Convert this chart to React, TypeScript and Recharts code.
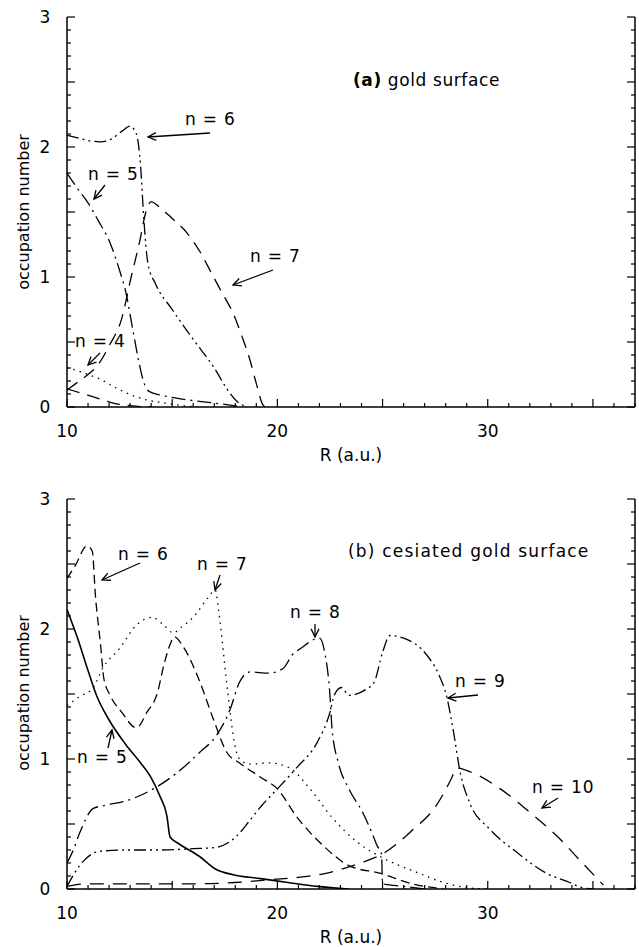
import React from 'react';
import { LineChart, Line, XAxis, YAxis } from 'recharts';

type P = [number, number];

// ---- axis ticks / labels ----
const xTicks = [10, 11, 12, 13, 14, 15, 16, 17, 18, 19, 20, 21, 22, 23, 24, 25, 26, 27, 28, 29, 30, 31, 32, 33, 34, 35, 36, 37];
const xLabels = [10, 20, 30];
const yTicks = [0, 0.1, 0.2, 0.3, 0.4, 0.5, 0.6, 0.7, 0.8, 0.9, 1, 1.1, 1.2, 1.3, 1.4, 1.5, 1.6, 1.7, 1.8, 1.9, 2, 2.1, 2.2, 2.3, 2.4, 2.5, 2.6, 2.7, 2.8, 2.9, 3];
const yLabels = [0, 1, 2, 3];
const xDomain: [number, number] = [10, 37];
const yDomain: [number, number] = [0, 3];

// ---- (a) gold surface ----
const topN4: P[] = [[10, 0.3], [10.5, 0.28], [11, 0.25], [11.5, 0.22], [12.3, 0.15], [13.1, 0.09], [13.9, 0.05], [14.7, 0.03], [15.5, 0.01], [16.5, 0]];
const topN5: P[] = [[10, 1.8], [10.5, 1.68], [11, 1.57], [11.5, 1.43], [12, 1.28], [12.5, 1.05], [12.8, 0.88], [13.1, 0.62], [13.4, 0.36], [13.65, 0.19], [13.9, 0.12], [14.5, 0.09], [15.5, 0.06], [16.5, 0.04], [17.5, 0.02], [18.3, 0]];
const topN6: P[] = [[10, 2.09], [10.5, 2.07], [11, 2.05], [11.6, 2.04], [12.1, 2.06], [12.6, 2.12], [13, 2.16], [13.3, 2.1], [13.5, 1.85], [13.65, 1.45], [13.85, 1.1], [14.2, 0.95], [15, 0.75], [16, 0.52], [17, 0.3], [17.6, 0.14], [18.1, 0.04], [18.6, 0]];
const topN7: P[] = [[10, 0.13], [10.5, 0.19], [11, 0.25], [11.5, 0.33], [12, 0.47], [12.6, 0.68], [13.05, 1.0], [13.45, 1.27], [13.75, 1.5], [14, 1.58], [14.3, 1.55], [15, 1.45], [15.7, 1.34], [16.3, 1.2], [16.9, 1.02], [17.4, 0.87], [17.9, 0.72], [18.3, 0.55], [18.7, 0.36], [19, 0.18], [19.3, 0.02], [19.4, 0]];
const topN8: P[] = [[10, 0.14], [10.6, 0.11], [11.4, 0.07], [12.2, 0.03], [13, 0.01], [14, 0]];

// ---- (b) cesiated gold surface ----
const botN5: P[] = [[10, 2.15], [10.5, 1.93], [11, 1.68], [11.4, 1.49], [12, 1.3], [12.8, 1.11], [13.5, 0.97], [13.95, 0.87], [14.4, 0.72], [14.75, 0.56], [14.9, 0.4], [15.3, 0.35], [16.3, 0.25], [17.1, 0.15], [17.9, 0.11], [19.2, 0.08], [20.5, 0.05], [21.9, 0.02], [23.4, 0]];
const botN6: P[] = [[10, 2.39], [10.4, 2.49], [10.95, 2.64], [11.2, 2.6], [11.35, 2.26], [11.6, 1.87], [11.75, 1.62], [12.05, 1.49], [12.6, 1.36], [13.3, 1.24], [13.8, 1.36], [14.3, 1.51], [14.6, 1.72], [14.9, 1.88], [15.1, 1.94], [15.5, 1.87], [16.3, 1.6], [16.95, 1.31], [17.6, 1.05], [18.2, 0.97], [19.2, 0.86], [20, 0.77], [20.9, 0.56], [22.2, 0.33], [23.4, 0.18], [24.9, 0.12], [26.4, 0.04], [27.9, 0]];
const botN7: P[] = [[10, 1.41], [10.6, 1.48], [11.25, 1.55], [11.7, 1.7], [12.5, 1.85], [13.3, 2.03], [14.05, 2.09], [14.6, 2.03], [15.05, 1.97], [15.4, 2.01], [16, 2.09], [16.7, 2.24], [17.05, 2.3], [17.2, 2.15], [17.35, 1.95], [17.5, 1.72], [17.65, 1.5], [17.8, 1.3], [17.95, 1.13], [18.2, 1.0], [18.7, 0.96], [19.6, 0.97], [20.6, 0.93], [21.5, 0.78], [22.6, 0.55], [23.8, 0.36], [25, 0.24], [26.6, 0.13], [27.9, 0.05], [29, 0.01], [30, 0]];
const botN8: P[] = [[10, 0.2], [10.3, 0.3], [10.6, 0.43], [11.25, 0.62], [11.7, 0.64], [12.85, 0.68], [14.1, 0.77], [15.2, 0.89], [16.3, 1.05], [17.1, 1.18], [17.75, 1.38], [18.2, 1.59], [18.7, 1.67], [19.6, 1.66], [20.3, 1.7], [20.7, 1.8], [21.1, 1.85], [22, 1.93], [22.25, 1.82], [22.5, 1.49], [22.6, 1.23], [22.9, 0.97], [23.4, 0.77], [24.05, 0.59], [24.5, 0.43], [24.75, 0.33], [24.95, 0.27], [25.0, 0.04], [26, 0.02], [27, 0]];
const botN9: P[] = [[10, 0.02], [10.6, 0.18], [11.55, 0.29], [12.85, 0.3], [14.4, 0.3], [16, 0.31], [17.1, 0.32], [17.7, 0.36], [18.2, 0.43], [18.7, 0.53], [19.3, 0.65], [20, 0.77], [20.9, 0.93], [21.9, 1.13], [22.5, 1.36], [22.7, 1.49], [23.05, 1.55], [23.4, 1.49], [24.25, 1.54], [24.6, 1.59], [25.0, 1.82], [25.35, 1.95], [26, 1.93], [27.1, 1.8], [27.7, 1.64], [28.05, 1.48], [28.35, 1.23], [28.7, 0.89], [29.15, 0.66], [30.1, 0.46], [31.4, 0.28], [32.8, 0.12], [33.9, 0.05], [34.5, 0.01], [35, 0]];
const botN10: P[] = [[10, 0.02], [11, 0.04], [12, 0.04], [14, 0.04], [16, 0.04], [18, 0.05], [19.5, 0.07], [21, 0.09], [22.3, 0.12], [23, 0.15], [23.6, 0.18], [24.3, 0.22], [25, 0.27], [25.7, 0.35], [26.4, 0.45], [27.5, 0.63], [28.3, 0.86], [28.5, 0.93], [29.2, 0.9], [30.6, 0.77], [32, 0.59], [33.4, 0.39], [34.5, 0.2], [35.5, 0.03]];

// ---- annotations (pixel positions on page) ----
const topNotes = [
  { t: 'n = 6', x: 185, y: 125 },
  { t: 'n = 5', x: 88, y: 180 },
  { t: 'n = 7', x: 250, y: 262 },
  { t: 'n = 4', x: 75, y: 347 },
];
const topArrows = [
  [210, 133, 148, 137],
  [105, 185, 94, 199],
  [273, 270, 233, 285],
  [100, 353, 88, 365],
];
const botNotes = [
  { t: 'n = 6', x: 118, y: 560 },
  { t: 'n = 7', x: 197, y: 570 },
  { t: 'n = 5', x: 77, y: 763 },
  { t: 'n = 8', x: 290, y: 618 },
  { t: 'n = 9', x: 455, y: 687 },
  { t: 'n = 10', x: 532, y: 793 },
];
const botArrows = [
  [140, 563, 102, 580],
  [220, 575, 215, 590],
  [108, 748, 112, 730],
  [315, 624, 315, 637],
  [478, 695, 448, 698],
  [558, 798, 542, 808],
];

const FONT = '"DejaVu Sans", sans-serif';
const toData = (pts: P[]) => pts.map(([r, v]) => ({ r, v }));
const isMajorX = (v: number) => Math.abs(v / 5 - Math.round(v / 5)) < 1e-6;
const isMajorY = (v: number) => Math.abs(v * 2 - Math.round(v * 2)) < 1e-6;
const hasLabel = (arr: number[], v: number) => arr.some((a) => Math.abs(a - v) < 1e-6);

const BottomTick = (p: any) => {
  const v = p.payload.value;
  return (
    <g>
      <line x1={p.x} x2={p.x} y1={p.y} y2={p.y - (isMajorX(v) ? 8 : 4)} stroke="#000" strokeWidth={1.2} />
      {hasLabel(xLabels, v) && (
        <text x={p.x} y={p.y + 30} textAnchor="middle" fontSize={17} fontFamily={FONT} fill="#000">{v}</text>
      )}
    </g>
  );
};
const TopTick = (p: any) => {
  const v = p.payload.value;
  return <line x1={p.x} x2={p.x} y1={p.y} y2={p.y + (isMajorX(v) ? 8 : 4)} stroke="#000" strokeWidth={1.2} />;
};
const LeftTick = (p: any) => {
  const v = p.payload.value;
  return (
    <g>
      <line x1={p.x} x2={p.x + (isMajorY(v) ? 8 : 4)} y1={p.y} y2={p.y} stroke="#000" strokeWidth={1.2} />
      {hasLabel(yLabels, v) && (
        <text x={p.x - 22} y={p.y + 6} textAnchor="middle" fontSize={17} fontFamily={FONT} fill="#000">{v}</text>
      )}
    </g>
  );
};
const RightTick = (p: any) => {
  const v = p.payload.value;
  return <line x1={p.x} x2={p.x - (isMajorY(v) ? 8 : 4)} y1={p.y} y2={p.y} stroke="#000" strokeWidth={1.2} />;
};

type S = { pts: P[]; dash?: string; w?: number };

const Panel = ({ height, top, series }: { height: number; top: number; series: S[] }) => {
  const axisLine = { stroke: '#000', strokeWidth: 1.5 };
  return (
    <LineChart width={639} height={height} margin={{ top, right: 0, bottom: 0, left: 0 }}>
      <XAxis xAxisId="b" type="number" dataKey="r" domain={xDomain} allowDataOverflow ticks={xTicks} interval={0}
        tickSize={0} tickMargin={0} tickLine={false} axisLine={axisLine} tick={(p: any) => <BottomTick {...p} />}
        height={height - top - 390} orientation="bottom" />
      <XAxis xAxisId="t" type="number" dataKey="r" domain={xDomain} allowDataOverflow ticks={xTicks} interval={0}
        tickSize={0} tickMargin={0} tickLine={false} axisLine={axisLine} tick={(p: any) => <TopTick {...p} />}
        height={0} orientation="top" />
      <YAxis yAxisId="l" type="number" domain={yDomain} allowDataOverflow ticks={yTicks} interval={0}
        tickSize={0} tickMargin={0} tickLine={false} axisLine={axisLine} tick={(p: any) => <LeftTick {...p} />}
        width={67} orientation="left" />
      <YAxis yAxisId="r" type="number" domain={yDomain} allowDataOverflow ticks={yTicks} interval={0}
        tickSize={0} tickMargin={0} tickLine={false} axisLine={axisLine} tick={(p: any) => <RightTick {...p} />}
        width={4} orientation="right" />
      {series.map((s, i) => (
        <Line key={i} xAxisId="b" yAxisId="l" data={toData(s.pts)} dataKey="v" type="monotone"
          stroke="#000" strokeWidth={s.w ?? 1.3} strokeDasharray={s.dash} dot={false}
          activeDot={false} isAnimationActive={false} />
      ))}
    </LineChart>
  );
};

const Arrow = ({ a }: { a: number[] }) => {
  const [x1, y1, x2, y2] = a;
  const ang = Math.atan2(y2 - y1, x2 - x1);
  const L = 9;
  const s = 0.45;
  const ax = x2 - L * Math.cos(ang - s);
  const ay = y2 - L * Math.sin(ang - s);
  const bx = x2 - L * Math.cos(ang + s);
  const by = y2 - L * Math.sin(ang + s);
  return (
    <g stroke="#000" strokeWidth={1.3} fill="none">
      <line x1={x1} y1={y1} x2={x2} y2={y2} />
      <polyline points={`${ax},${ay} ${x2},${y2} ${bx},${by}`} />
    </g>
  );
};

export default function App() {
  const topSeries: S[] = [
    { pts: topN4, dash: '1.5 5' },
    { pts: topN5, dash: '14 5 2 5' },
    { pts: topN6, dash: '12 4 2 4 2 4' },
    { pts: topN7, dash: '13 8' },
    { pts: topN8, dash: '13 8' },
  ];
  const botSeries: S[] = [
    { pts: botN5, w: 1.6 },
    { pts: botN6, dash: '9 5' },
    { pts: botN7, dash: '1.5 5' },
    { pts: botN8, dash: '14 5 2 5' },
    { pts: botN9, dash: '12 4 2 4 2 4' },
    { pts: botN10, dash: '14 9' },
  ];
  return (
    <div style={{ position: 'absolute', left: 0, top: 0, width: 639, height: 947, background: '#fff' }}>
      <div style={{ position: 'absolute', left: 0, top: 0 }}>
        <Panel height={460} top={17} series={topSeries} />
      </div>
      <div style={{ position: 'absolute', left: 0, top: 460 }}>
        <Panel height={487} top={39} series={botSeries} />
      </div>
      <svg width={639} height={947} style={{ position: 'absolute', left: 0, top: 0, pointerEvents: 'none' }}>
        <g fontFamily={FONT} fontSize={17} fill="#000">
          <text x={353} y={86} letterSpacing={0.6}><tspan fontWeight="bold">(a)</tspan> gold surface</text>
          <text x={348} y={557} letterSpacing={1.2}>(b) cesiated gold surface</text>
          {topNotes.map((n, i) => <text key={'t' + i} x={n.x} y={n.y} letterSpacing={0.8}>{n.t}</text>)}
          {botNotes.map((n, i) => <text key={'b' + i} x={n.x} y={n.y} letterSpacing={0.8}>{n.t}</text>)}
          <text x={351} y={461} textAnchor="middle">R (a.u.)</text>
          <text x={351} y={943} textAnchor="middle">R (a.u.)</text>
          <text transform="translate(29,212) rotate(-90)" textAnchor="middle" fontSize={16}>occupation number</text>
          <text transform="translate(29,693) rotate(-90)" textAnchor="middle" fontSize={16}>occupation number</text>
        </g>
        {topArrows.map((a, i) => <Arrow key={'ta' + i} a={a} />)}
        {botArrows.map((a, i) => <Arrow key={'ba' + i} a={a} />)}
      </svg>
    </div>
  );
}
